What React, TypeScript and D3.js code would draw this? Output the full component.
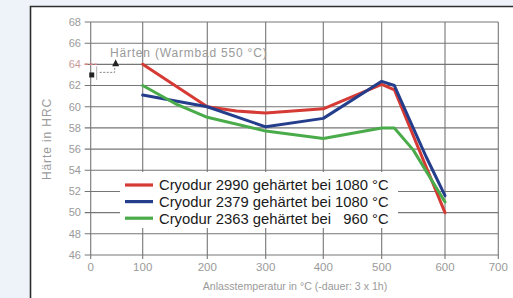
import React from "react";
import * as d3 from "d3";

const xTicks = [0, 100, 200, 300, 400, 500, 600, 700];
const yTicks = [46, 48, 50, 52, 54, 56, 58, 60, 62, 64, 66, 68];

const redX = [100, 200, 250, 300, 400, 500, 520, 600];
const redY = [64.0, 60.0, 59.6, 59.4, 59.8, 62.1, 61.6, 50.0];

const blueX = [100, 200, 300, 400, 500, 520, 540, 570, 600];
const blueY = [61.1, 60.0, 58.1, 58.9, 62.4, 62.0, 59.3, 55.3, 51.6];

const greenX = [100, 150, 200, 300, 400, 500, 520, 550, 600];
const greenY = [62.0, 60.3, 59.0, 57.7, 57.0, 58.0, 58.0, 55.9, 51.0];

const seriesNames = [
  "Cryodur 2990 gehärtet bei 1080 °C",
  "Cryodur 2379 gehärtet bei 1080 °C",
  "Cryodur 2363 gehärtet bei \u2007960 °C",
];
const seriesColors = ["#d63a34", "#243e8c", "#4aab4a"];

const annotationText = "Härten (Warmbad 550 °C)";
const annoSquare = { x: 2, y: 63 };
const annoTriangle = { x: 48, y: 64 };

const yTitle = "Härte in HRC";
const xTitle = "Anlasstemperatur in °C (-dauer: 3 x 1h)";

export default function App() {
  const W = 513;
  const H = 298;
  const x = d3
    .scaleLinear()
    .domain(xTicks)
    .range([90.7, 142.7, 207.3, 265.7, 323.3, 381.7, 445, 498.3]);
  const y = d3.scaleLinear().domain([46, 68]).range([255, 22]);

  const line = d3
    .line<[number, number]>()
    .x((d) => x(d[0]))
    .y((d) => y(d[1]))
    .curve(d3.curveLinear);

  const series = [
    { xs: redX, ys: redY },
    { xs: blueX, ys: blueY },
    { xs: greenX, ys: greenY },
  ];

  const gray = "#9a9a9a";
  const gridColor = "#767676";
  const x0 = x(0);
  const x1 = x(700);
  const yTop = y(68);
  const yBot = y(46);

  const sx = x(annoSquare.x);
  const sy = y(annoSquare.y);
  const tx = x(annoTriangle.x);
  const ty = y(annoTriangle.y);

  return (
    <svg
      width={W}
      height={H}
      style={{ position: "absolute", left: 0, top: 0, fontFamily: "'Liberation Sans', Arial, sans-serif" }}
    >
      <defs>
        <clipPath id="panelClip">
          <rect x={30} y={6} width={478} height={H - 6} />
        </clipPath>
      </defs>
      <rect x={0} y={0} width={W} height={H} fill="#eef3fa" />
      <rect x={30} y={6} width={W - 30} height={H - 6} fill="#ffffff" />
      <path d={`M30.5,${H} L30.5,6.5 L${W},6.5`} fill="none" stroke="#2e2e2e" strokeWidth={1.6} />

      {/* grid */}
      {yTicks.map((t) => (
        <line key={"h" + t} x1={x0 - 6} x2={x1} y1={y(t)} y2={y(t)} stroke={gridColor} strokeWidth={1.1} />
      ))}
      {xTicks.map((t) => (
        <line key={"v" + t} x1={x(t)} x2={x(t)} y1={yTop} y2={yBot + 4} stroke={gridColor} strokeWidth={1.1} />
      ))}

      {/* y tick labels */}
      {yTicks.map((t) => (
        <text
          key={"yl" + t}
          x={81}
          y={y(t)}
          dy="0.35em"
          textAnchor="end"
          fontSize={11}
          fill={t === 64 ? "#c99a9a" : gray}
        >
          {t}
        </text>
      ))}
      {/* x tick labels */}
      <g clipPath="url(#panelClip)">
        {xTicks.map((t) => (
          <text key={"xl" + t} x={x(t)} y={271} textAnchor="middle" fontSize={11.5} fill={gray}>
            {t}
          </text>
        ))}
      </g>

      {/* axis titles */}
      <text
        transform={`translate(51,${139}) rotate(-90)`}
        textAnchor="middle"
        fontSize={12}
        letterSpacing={0.9}
        fill={gray}
      >
        {yTitle}
      </text>
      <text x={295} y={290} textAnchor="middle" fontSize={10.6} fill={gray}>
        {xTitle}
      </text>

      {/* annotation */}
      <text x={110} y={56.5} fontSize={12} letterSpacing={0.8} fill={gray}>
        {annotationText}
      </text>
      <line x1={x0 - 6} x2={x0 + 6} y1={y(64)} y2={y(64)} stroke="#e08080" strokeWidth={1.5} strokeDasharray="3,2" />
      <line x1={x0 + 6} x2={x0 + 6} y1={y(64) + 2} y2={sy + 5} stroke="#999" strokeWidth={0.8} />
      <path
        d={`M${x0 + 9},${ty + 8} L${tx - 1},${ty + 8} L${tx - 1},${ty + 3}`}
        fill="none"
        stroke="#777"
        strokeWidth={0.9}
        strokeDasharray="2,1.5"
      />
      <rect x={sx - 2.5} y={sy - 2.5} width={5} height={5} fill="#222" />
      <path d={`M${tx},${ty - 5} L${tx + 3.5},${ty + 2} L${tx - 3.5},${ty + 2} Z`} fill="#222" />

      {/* series */}
      {series.map((s, i) => (
        <path
          key={"s" + i}
          d={line(s.xs.map((v, j) => [v, s.ys[j]] as [number, number])) || ""}
          fill="none"
          stroke={seriesColors[i]}
          strokeWidth={3}
          strokeLinejoin="round"
          strokeLinecap="round"
        />
      ))}

      {/* legend */}
      <rect x={120} y={172} width={278} height={56} fill="#ffffff" />
      {seriesNames.map((n, i) => {
        const cy = 185 + i * 16.6;
        return (
          <g key={"lg" + i}>
            <line x1={125} x2={153} y1={cy} y2={cy} stroke={seriesColors[i]} strokeWidth={3.2} />
            <text x={159} y={cy} dy="0.36em" fontSize={14.8} fill="#1a1a1a">
              {n}
            </text>
          </g>
        );
      })}
    </svg>
  );
}
